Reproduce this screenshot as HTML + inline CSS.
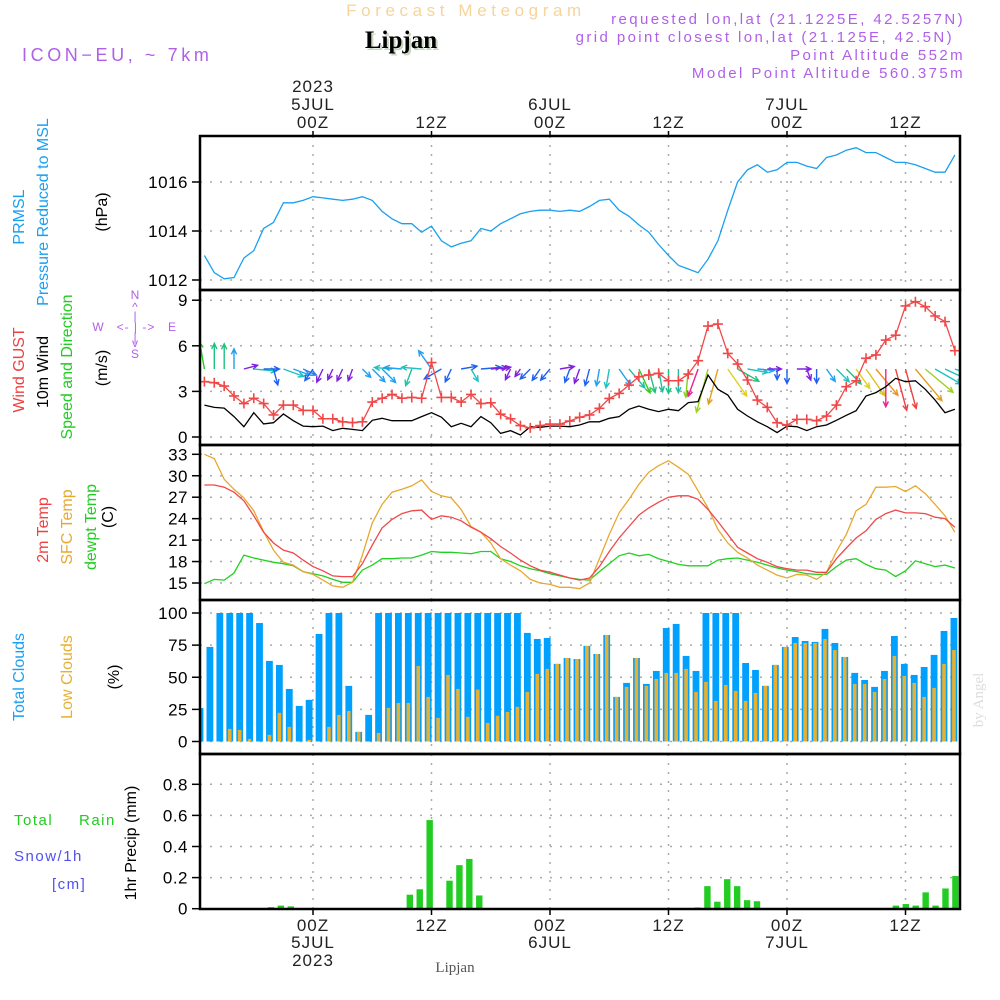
<!DOCTYPE html>
<html><head><meta charset="utf-8">
<style>
html,body{margin:0;padding:0;background:#fff;}
svg{display:block;}
</style></head>
<body>
<svg id="chart" width="1000" height="1000" viewBox="0 0 1000 1000" xmlns="http://www.w3.org/2000/svg" font-family="Liberation Sans, sans-serif">
<defs>
<clipPath id="cp1"><rect x="200" y="136" width="760" height="154"/></clipPath>
<clipPath id="cp2"><rect x="200" y="290" width="760" height="155"/></clipPath>
<clipPath id="cp3"><rect x="200" y="445" width="760" height="155"/></clipPath>
<clipPath id="cp4"><rect x="200" y="600" width="760" height="154"/></clipPath>
<clipPath id="cp5"><rect x="200" y="754" width="760" height="155"/></clipPath>
</defs>
<g>
<text x="466" y="16" text-anchor="middle" font-size="17" letter-spacing="4.6" fill="#f6d49a">Forecast Meteogram</text>
<text x="403" y="50" text-anchor="middle" font-size="25" font-weight="bold" style="font-family:'Liberation Serif',serif" fill="#c8d8c0">Lipjan</text>
<text x="401" y="48" text-anchor="middle" font-size="25" font-weight="bold" style="font-family:'Liberation Serif',serif" fill="#000">Lipjan</text>
<text x="22" y="61" font-size="18" letter-spacing="3.6" fill="#b060e8">ICON−EU, ~ 7km</text>
<text x="965" y="24" text-anchor="end" font-size="15" letter-spacing="2.4" fill="#b060e8">requested lon,lat (21.1225E, 42.5257N)</text>
<text x="954" y="42" text-anchor="end" font-size="15" letter-spacing="2.4" fill="#b060e8">grid point closest lon,lat (21.125E, 42.5N)</text>
<text x="965" y="60" text-anchor="end" font-size="15" letter-spacing="2.4" fill="#b060e8">Point Altitude 552m</text>
<text x="965" y="78" text-anchor="end" font-size="15" letter-spacing="2.4" fill="#b060e8">Model Point Altitude 560.375m</text>
</g>
<g id="grids"></g>
<g id="marks"></g>
<g id="frames"></g>
<g id="labels"></g>
</svg>
<script>
// ---- data (hourly, 77 points) ----
const timeTicks = [0, 12, 24, 36, 48, 60];
const timeTickLabels = ["00Z", "12Z", "00Z", "12Z", "00Z", "12Z"];
const dateLabels = ["5JUL", "", "6JUL", "", "7JUL", ""];
const pressure = [1013.0,1012.3,1012.05,1012.1,1012.9,1013.2,1014.1,1014.35,1015.15,1015.15,1015.25,1015.4,1015.35,1015.3,1015.25,1015.3,1015.4,1015.25,1014.8,1014.5,1014.3,1014.3,1013.95,1014.2,1013.6,1013.35,1013.5,1013.6,1014.1,1014.0,1014.3,1014.5,1014.7,1014.8,1014.85,1014.85,1014.8,1014.85,1014.8,1015.0,1015.25,1015.3,1014.85,1014.6,1014.25,1013.95,1013.45,1013.0,1012.6,1012.45,1012.3,1012.85,1013.6,1014.85,1016.0,1016.5,1016.7,1016.4,1016.5,1016.8,1016.8,1016.65,1016.55,1017.0,1017.1,1017.3,1017.4,1017.2,1017.2,1017.0,1016.8,1016.8,1016.7,1016.55,1016.4,1016.4,1017.1];
const windSpeed = [2.1,1.95,1.9,1.34,0.68,1.6,0.86,0.94,1.51,1.07,0.72,0.68,0.72,0.42,0.57,0.5,0.42,1.1,1.23,1.07,1.07,1.07,1.34,1.6,1.3,0.68,0.9,0.68,1.34,0.94,0.24,0.42,0.13,0.68,0.64,0.72,0.72,0.68,0.79,1.0,1.0,1.23,1.34,1.82,2.04,1.82,1.67,1.82,1.73,2.26,2.33,4.08,3.14,2.76,1.82,1.38,1.0,0.68,0.29,0.72,0.68,0.42,0.68,0.79,1.1,1.43,1.73,2.7,2.92,3.31,3.86,3.64,3.7,3.14,2.43,1.6,1.82];
const windGust = [3.64,3.57,3.35,2.7,2.2,2.55,2.2,1.45,2.1,2.1,1.75,1.75,1.2,1.2,1.0,0.95,1.0,2.3,2.55,2.8,2.55,2.6,2.55,4.9,2.6,2.6,2.3,2.8,2.2,2.25,1.5,1.2,0.75,0.6,0.75,0.85,0.85,1.05,1.3,1.45,1.89,2.54,2.87,3.42,3.97,4.08,4.19,3.7,3.7,4.14,5.02,7.3,7.43,5.5,4.8,3.75,2.43,1.95,0.94,0.78,1.16,1.16,1.07,1.38,2.1,3.31,3.7,5.18,5.4,6.38,6.7,8.62,8.9,8.57,7.96,7.59,5.68];
const windDir = [350,0,0,0,75,95,90,165,110,110,115,215,205,205,205,200,135,135,135,275,275,200,275,325,240,205,80,150,85,85,80,205,215,225,215,220,80,200,200,195,190,190,145,140,155,165,170,180,180,185,200,195,195,145,120,100,95,90,180,180,90,160,180,145,135,135,145,145,140,180,165,165,140,130,120,115,110];
const windColor = ["#22cc22","#20c080","#20c080","#20a0f0","#8020e0","#20c0c0","#2060f0","#2060f0","#20c0c0","#20a0f0","#2080f0","#2060f0","#8020e0","#8020e0","#8020e0","#8020e0","#20a0f0","#20a0f0","#20a0f0","#20c0c0","#20a0f0","#20c0a0","#20c0c0","#20a0f0","#2060f0","#2060f0","#2060f0","#20c0c0","#2060f0","#8020e0","#8020e0","#8020e0","#8020e0","#2060f0","#2060f0","#2060f0","#8020e0","#2060f0","#8020e0","#2060f0","#20a0f0","#20c0c0","#20a0f0","#20c0a0","#30d020","#20c080","#20c0a0","#20c080","#20c0a0","#80d020","#f02090","#a0d020","#e0a020","#e0d020","#20c080","#20c0c0","#20a0f0","#8020e0","#2060f0","#2060f0","#8020e0","#8020e0","#2060f0","#20a0f0","#20c0c0","#20c080","#e0d020","#e0c020","#f09020","#f02090","#f04040","#f04040","#e0a020","#a0d020","#20c0c0","#20c0c0","#20c0c0"];
const temp2m = [28.7,28.7,28.4,27.7,26.5,24.4,22.1,20.6,19.6,19.2,18.2,17.3,16.7,16.0,15.9,15.9,17.7,20.3,22.7,23.9,24.7,25.1,25.2,23.9,24.4,24.2,23.7,22.8,22.1,21.2,20.1,19.2,18.2,17.4,16.8,16.5,16.1,15.7,15.4,15.7,17.3,19.4,21.3,22.9,24.5,25.5,26.3,27.0,27.2,27.2,26.7,25.3,23.6,21.8,20.0,19.2,18.4,17.9,17.3,17.0,16.8,16.8,16.5,16.5,18.4,19.9,21.3,22.3,23.9,24.7,25.2,24.8,24.8,24.7,24.2,24.0,22.8];
const tempSfc = [33.0,32.4,29.5,28.1,26.9,25.1,22.2,19.6,17.9,17.5,16.6,16.2,15.4,14.6,14.4,15.1,18.9,23.4,26.0,27.7,28.1,28.6,29.4,27.8,27.2,26.9,25.3,22.9,22.1,20.6,18.4,17.5,16.7,15.5,15.0,14.8,14.4,14.4,14.2,15.0,18.4,21.8,24.8,26.7,28.8,30.5,31.4,32.1,31.2,30.2,27.9,25.5,22.5,20.6,19.3,18.5,17.5,16.8,16.1,15.7,16.2,16.1,15.5,16.5,19.4,21.8,25.1,26.0,28.4,28.4,28.5,27.8,28.6,27.5,26.0,24.4,22.1];
const tempDew = [14.9,15.5,15.4,16.4,18.9,18.5,18.2,17.9,17.7,17.4,16.6,16.3,16.0,15.5,15.1,15.1,16.8,17.5,18.4,18.4,18.5,18.5,18.9,19.4,19.3,19.3,19.2,19.1,19.4,19.4,18.4,18.0,17.4,17.0,16.7,16.3,16.0,15.7,15.5,15.4,16.6,17.7,18.8,19.2,18.8,19.0,18.4,18.0,17.6,17.4,17.4,17.4,18.2,18.4,18.5,18.2,17.9,17.5,17.1,16.8,16.6,16.3,16.2,16.2,17.3,18.2,18.4,17.6,17.0,16.8,15.9,16.7,18.1,17.7,17.3,17.5,17.1];
const cloudTotal = [26,73.6,100,100,100,100,92.2,62.7,59.6,40.9,27.7,32.4,83.7,100,100,43.3,7.5,20.7,100,100,100,100,100,100,100,100,100,100,100,100,100,100,100,84.5,79.8,80.6,60.4,65,64.2,74.4,68.1,82.9,34.7,45.6,65,44.8,54.9,88.3,91.5,66.6,54.9,100,100,100,100,61.1,55.7,43.3,59.6,73.6,81.3,78.2,77.5,87.6,76.7,65.8,53.4,47.9,42.5,54.9,82.1,60.4,51.8,58,67.4,86,96.1];
const cloudLow = [0,0,0,9.8,9,2,0,5.2,22.3,11.4,0,1.3,0,11.4,20.7,23.8,7.5,0,6.7,26.2,30,30,58.8,34.7,18.4,51.8,40.9,19.2,40.4,14.5,20,23,27,38.6,52.6,56.5,60.4,65,64.2,74.4,68.1,82.9,34.7,42.5,65,43.3,48.7,53.4,53.4,56.5,38.6,46.4,31.6,44,39.4,31.6,37.8,43.3,59.6,73.6,76.7,76.7,76.7,79.8,71.2,65.8,44.8,44.8,38.6,48.7,66.6,51,45.6,34.7,41.7,60.4,71.2];
const precip = [0,0,0,0,0,0,0,0.01,0.02,0.015,0,0,0,0,0,0,0,0,0,0,0,0.09,0.125,0.57,0,0.18,0.28,0.32,0.085,0,0,0,0,0,0,0,0,0,0,0,0,0,0,0,0,0,0,0,0,0,0.008,0.145,0.045,0.19,0.145,0.055,0.048,0,0,0,0,0,0,0,0,0,0,0,0,0,0.02,0.03,0.02,0.105,0.02,0.13,0.21];
const pTicks = [1012, 1014, 1016];
const wTicks = [0, 3, 6, 9];
const tTicks = [15, 18, 21, 24, 27, 30, 33];
const cTicks = [0, 25, 50, 75, 100];
const rTicks = [0, 0.2, 0.4, 0.6, 0.8];

// ---- scales ----
const NS = "http://www.w3.org/2000/svg";
const X0 = 200, X1 = 960;
function xHour(i){ return 204.4 + 9.875 * i; }
function xTime(t){ return 313 + 9.875 * t; }
function xBar(k){ return 200 + 9.92 * k; }
function yP(v){ return 280 - (v - 1012) * 24.5; }
function yW(v){ return 437 - v * 15.2; }
function yT(v){ return 583 - (v - 15) * 7.15; }
function yC(v){ return 741.5 - v * 1.285; }
function yR(v){ return 908.7 - v * 155.5; }

function mk(tag, attrs, parent){
  const e = document.createElementNS(NS, tag);
  for (const k in attrs) e.setAttribute(k, attrs[k]);
  parent.appendChild(e);
  return e;
}
const grids = document.getElementById("grids");
const marks = document.getElementById("marks");
const frames = document.getElementById("frames");
const labels = document.getElementById("labels");

const panels = [
  {top:136, bot:290, ticks:pTicks, fy:yP, fmt:v=>String(v), name:"pressure"},
  {top:290, bot:445, ticks:wTicks, fy:yW, fmt:v=>String(v), name:"wind"},
  {top:445, bot:600, ticks:tTicks, fy:yT, fmt:v=>String(v), name:"temp"},
  {top:600, bot:754, ticks:cTicks, fy:yC, fmt:v=>String(v), name:"clouds"},
  {top:754, bot:909, ticks:rTicks, fy:yR, fmt:v=>v===0?"0":v.toFixed(1), name:"precip"}
];

panels.forEach(p => {
  timeTicks.forEach(t => {
    const l = mk("line", {x1:xTime(t), x2:xTime(t), y1:p.top, y2:p.bot, stroke:"#aaa", "stroke-width":1.5, "stroke-dasharray":"2 7"}, grids);
    
    
  });
  p.ticks.forEach(v => {
    const y = p.fy(v);
    if (!(p.name === "precip" && v === 0)) {
      const g = mk("line", {x1:X0, x2:X1, y1:y, y2:y, stroke:"#aaa", "stroke-width":1.5, "stroke-dasharray":"2 8"}, grids);
      
      
    }
    const tk = mk("line", {x1:192, x2:200, y1:y, y2:y, stroke:"#000", "stroke-width":1.5}, frames);
    
    
    const tx = mk("text", {x:188, y:y + 6, "text-anchor":"end", "font-size":17, fill:"#000", "letter-spacing":0.5}, labels);
    tx.textContent = p.fmt(v);
    
    
  });
  const fr = mk("rect", {x:X0, y:p.top, width:X1 - X0, height:p.bot - p.top, fill:"none", stroke:"#000", "stroke-width":2.5}, frames);
  
  
});

timeTicks.forEach((t, j) => {
  const x = xTime(t);
  const a = mk("line", {x1:x, x2:x, y1:131, y2:136, stroke:"#000", "stroke-width":1.5}, frames);
  
  
  const b = mk("line", {x1:x, x2:x, y1:909, y2:915, stroke:"#000", "stroke-width":1.5}, frames);
  
  
  const tt = mk("text", {x:x, y:128, "text-anchor":"middle", "font-size":17, fill:"#222", "letter-spacing":1}, labels);
  tt.textContent = timeTickLabels[j];
  
  
  const bt = mk("text", {x:x, y:931, "text-anchor":"middle", "font-size":17, fill:"#222", "letter-spacing":1}, labels);
  bt.textContent = timeTickLabels[j];
  
  
  if (dateLabels[j]) {
    const d1 = mk("text", {x:x, y:110, "text-anchor":"middle", "font-size":17, fill:"#222", "letter-spacing":1}, labels);
    d1.textContent = dateLabels[j];
    
    
    const d2 = mk("text", {x:x, y:948, "text-anchor":"middle", "font-size":17, fill:"#222", "letter-spacing":1}, labels);
    d2.textContent = dateLabels[j];
    
    
  }
});
const y1 = mk("text", {x:xTime(0), y:92, "text-anchor":"middle", "font-size":17, fill:"#222", "letter-spacing":1}, labels);
y1.textContent = "2023";


const y2 = mk("text", {x:xTime(0), y:966, "text-anchor":"middle", "font-size":17, fill:"#222", "letter-spacing":1}, labels);
y2.textContent = "2023";



function polyline(arr, fx, fy, color, clip, name, w){
  const pts = arr.map((v, i) => fx(i).toFixed(1) + "," + fy(v).toFixed(1)).join(" ");
  const pl = mk("polyline", {points:pts, fill:"none", stroke:color, "stroke-width":w || 1.3, "clip-path":"url(#" + clip + ")"}, marks);
  
  
}

polyline(pressure, xHour, yP, "#1aa0f0", "cp1", "pressure-line");

const gA = mk("g", {"clip-path":"url(#cp2)"}, marks);


windDir.forEach((d, i) => {
  const x = xHour(i), y = 369;
  const L = 8 + 9 * windSpeed[i];
  const r = d * Math.PI / 180;
  const x2 = x + Math.sin(r) * L, y2 = y - Math.cos(r) * L;
  const ang = Math.atan2(y2 - y, x2 - x);
  const h = 6, s = 0.45;
  const hx1 = x2 - h * Math.cos(ang - s), hy1 = y2 - h * Math.sin(ang - s);
  const hx2 = x2 - h * Math.cos(ang + s), hy2 = y2 - h * Math.sin(ang + s);
  const a = mk("path", {d:`M${x.toFixed(1)},${y}L${x2.toFixed(1)},${y2.toFixed(1)}M${hx1.toFixed(1)},${hy1.toFixed(1)}L${x2.toFixed(1)},${y2.toFixed(1)}L${hx2.toFixed(1)},${hy2.toFixed(1)}`, fill:"none", stroke:windColor[i], "stroke-width":1.4}, gA);
  
  
});
polyline(windSpeed, xHour, yW, "#000", "cp2", "wind-speed-line");
polyline(windGust, xHour, yW, "#f04848", "cp2", "wind-gust-line");
const gG = mk("g", {"clip-path":"url(#cp2)"}, marks);
windGust.forEach((v, i) => {
  const x = xHour(i), y = yW(v);
  const c = mk("path", {d:`M${x-5},${y}H${x+5}M${x},${y-5}V${y+5}`, stroke:"#f04848", "stroke-width":1.6}, gG);
  
  
});

polyline(tempDew, xHour, yT, "#22d022", "cp3", "dewpoint-line");
polyline(tempSfc, xHour, yT, "#e8a830", "cp3", "sfc-temp-line");
polyline(temp2m, xHour, yT, "#f04848", "cp3", "temp-2m-line");

const gC = mk("g", {"clip-path":"url(#cp4)"}, marks);
cloudTotal.forEach((v, k) => {
  const x = xBar(k);
  const b = mk("rect", {x:x - 3.4, y:yC(v), width:6.8, height:yC(0) - yC(v), fill:"#00a0ff"}, gC);
  
  
});
cloudLow.forEach((v, k) => {
  const x = xBar(k);
  const b = mk("rect", {x:x - 1.8, y:yC(v), width:3.6, height:yC(0) - yC(v), fill:"#e8b030"}, gC);
  
  
});

const gR = mk("g", {"clip-path":"url(#cp5)"}, marks);
precip.forEach((v, k) => {
  if (v <= 0) return;
  const x = xBar(k) + 1.5;
  const b = mk("rect", {x:x - 3.2, y:yR(v), width:6.4, height:yR(0) - yR(v), fill:"#22cc22"}, gR);
  
  
});

function rot(txt, x, y, color, size, name){
  const t = mk("text", {x:x, y:y, "text-anchor":"middle", "font-size":size || 16, fill:color, transform:`rotate(-90 ${x} ${y})`}, labels);
  t.textContent = txt;
  
  
}
function hz(txt, x, y, color, size, name, anchor, ls){
  const t = mk("text", {x:x, y:y, "text-anchor":anchor || "start", "font-size":size || 16, fill:color, "letter-spacing":ls || 0}, labels);
  t.textContent = txt;
  
  
}
rot("PRMSL", 24, 217, "#1aa0f0", 16, "prmsl-label");
rot("Pressure Reduced to MSL", 48, 212, "#1aa0f0", 16, "pressure-label");
rot("(hPa)", 107, 212, "#000", 16, "pressure-unit");
rot("Wind GUST", 24, 370, "#f04040", 16, "gust-label");
rot("10m Wind", 48, 372, "#000", 16, "wind-label");
rot("Speed and Direction", 72, 367, "#22cc22", 16, "wind-speed-label");
rot("(m/s)", 107, 368, "#000", 16, "wind-unit");
rot("2m Temp", 48, 530, "#f04040", 16, "temp-2m-label");
rot("SFC Temp", 72, 527, "#e8a830", 16, "sfc-temp-label");
rot("dewpt Temp", 96, 527, "#22cc22", 16, "dewpt-label");
rot("(C)", 113, 517, "#000", 16, "temp-unit");
rot("Total Clouds", 24, 677, "#1aa0f0", 16, "total-clouds-label");
rot("Low Clouds", 72, 677, "#e8b030", 16, "low-clouds-label");
rot("(%)", 119, 677, "#000", 16, "clouds-unit");
rot("1hr Precip (mm)", 136, 843, "#000", 16, "precip-unit");
hz("Total", 14, 825, "#22cc22", 15, "total-rain-label-1", "start", 1.5);
hz("Rain", 79, 825, "#22cc22", 15, "total-rain-label-2", "start", 1.5);
hz("Snow/1h", 14, 861, "#5050f0", 15, "snow-label", "start", 1.5);
hz("[cm]", 52, 889, "#5050f0", 15, "snow-unit", "start", 1.5);
const cc = "#b060e8";
hz("N", 135, 299, cc, 12, "compass-n", "middle");
hz("^", 135, 311, cc, 12, "compass-up", "middle");
hz("|", 135, 320, cc, 12, "compass-bar", "middle");
hz("W", 98, 331, cc, 12, "compass-w", "middle");
hz("<- | ->", 136, 331, cc, 12, "compass-arrows", "middle", 1);
hz("E", 172, 331, cc, 12, "compass-e", "middle");
hz("|", 135, 341, cc, 12, "compass-bar2", "middle");
hz("v", 135, 347, cc, 12, "compass-down", "middle");
hz("S", 135, 358, cc, 12, "compass-s", "middle");
const foot = mk("text", {x:455, y:972, "text-anchor":"middle", "font-size":15, fill:"#555", style:"font-family:'Liberation Serif',serif"}, labels);
foot.textContent = "Lipjan";


const ang = mk("text", {x:983, y:700, "text-anchor":"middle", "font-size":15, fill:"#ddd", style:"font-family:'Liberation Serif',serif", transform:"rotate(-90 983 700)"}, labels);
ang.textContent = "by Angel";


</script>
</body></html>
